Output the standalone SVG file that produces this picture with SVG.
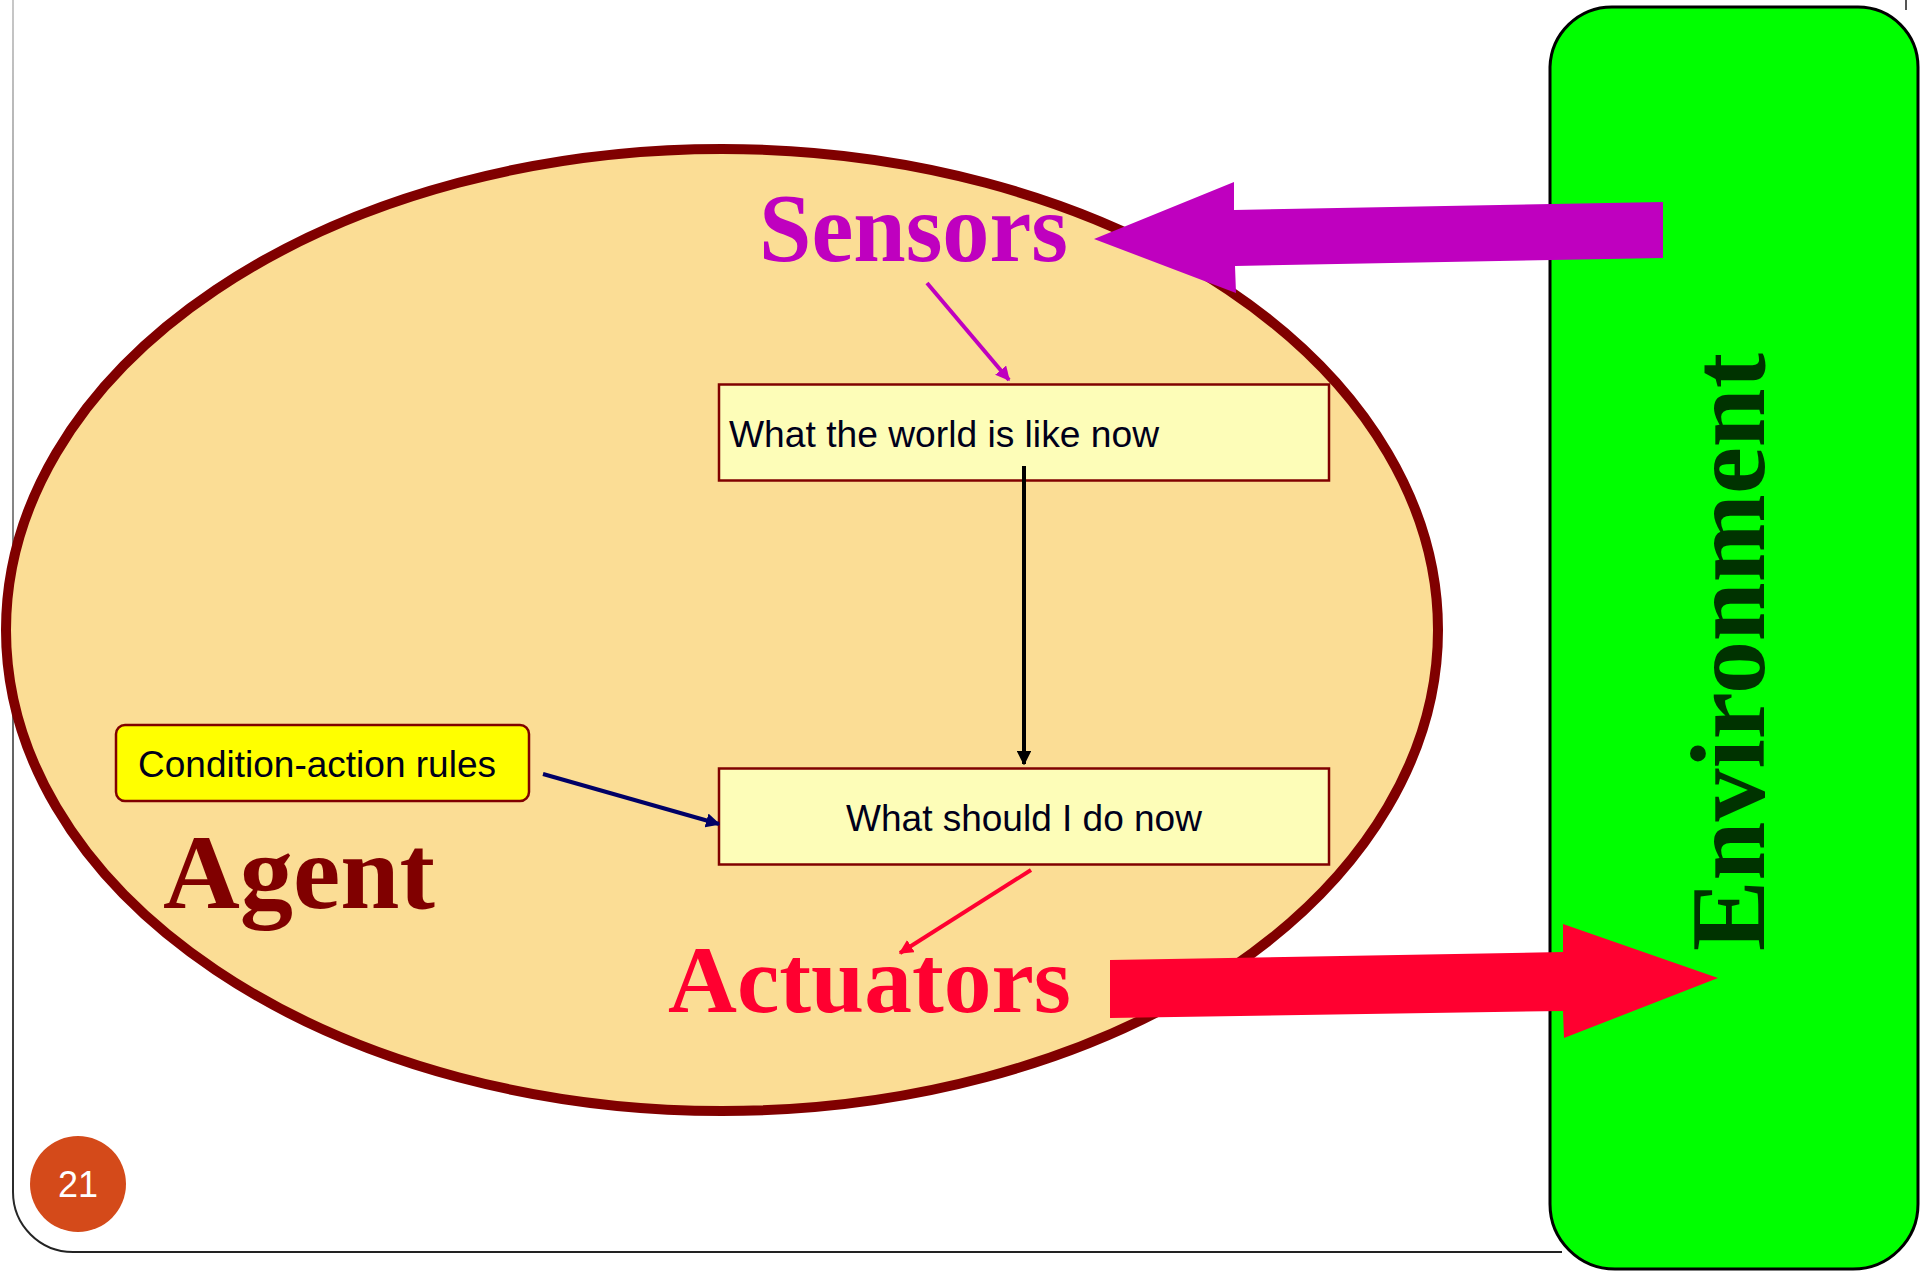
<svg xmlns="http://www.w3.org/2000/svg" width="1920" height="1272" viewBox="0 0 1920 1272">
  <style>
    .box { fill: #FDFDB8; stroke: #800000; stroke-width: 2.5; }
    .boxtext { font-family: "Liberation Sans", Arial, sans-serif; font-size: 37px; fill: #00001A; }
    .big { font-family: "Liberation Serif", "Times New Roman", serif; font-weight: bold; }
    .conn { fill: none; stroke-width: 4; }
  </style>
  <defs>
    <linearGradient id="frameGrad" x1="0" y1="0" x2="0" y2="1">
      <stop offset="0" stop-color="#c8c8c8"/>
      <stop offset="1" stop-color="#222"/>
    </linearGradient>
    <marker id="arrMag" viewBox="0 0 10 10" refX="9" refY="5" markerWidth="3.6" markerHeight="3.6" orient="auto" markerUnits="strokeWidth">
      <path d="M0,0 L10,5 L0,10 z" fill="#BF00BF"/>
    </marker>
    <marker id="arrBlack" viewBox="0 0 10 10" refX="9" refY="5" markerWidth="3.6" markerHeight="3.6" orient="auto" markerUnits="strokeWidth">
      <path d="M0,0 L10,5 L0,10 z" fill="#000"/>
    </marker>
    <marker id="arrNavy" viewBox="0 0 10 10" refX="9" refY="5" markerWidth="3.6" markerHeight="3.6" orient="auto" markerUnits="strokeWidth">
      <path d="M0,0 L10,5 L0,10 z" fill="#000066"/>
    </marker>
    <marker id="arrRed" viewBox="0 0 10 10" refX="9" refY="5" markerWidth="3.6" markerHeight="3.6" orient="auto" markerUnits="strokeWidth">
      <path d="M0,0 L10,5 L0,10 z" fill="#FF0030"/>
    </marker>
  </defs>

  <rect x="0" y="0" width="1920" height="1272" fill="#fff"/>

  <!-- slide frame -->
  <path d="M13,0 L13,1192 A60,60 0 0 0 73,1252 L1562,1252" fill="none" stroke="url(#frameGrad)" stroke-width="2"/>
  <line x1="1906" y1="0" x2="1906" y2="10" stroke="#555" stroke-width="2"/>

  <!-- environment -->
  <g id="environment">
    <path d="M1612,7 L1858,7 A60,60 0 0 1 1918,67 L1918,1204 A65,65 0 0 1 1853,1269 L1615,1269 A65,65 0 0 1 1550,1204 L1550,67 A62,62 0 0 1 1612,7 Z" fill="#00FF00" stroke="#000" stroke-width="3"/>
    <text class="big" transform="translate(1764,951) rotate(-90)" font-size="105" fill="#003300" textLength="598" lengthAdjust="spacingAndGlyphs">Environment</text>
  </g>

  <!-- agent -->
  <g id="agent">
    <ellipse cx="722" cy="630" rx="716" ry="481" fill="#FBDD95" stroke="#800000" stroke-width="10"/>
    <text class="big" x="163" y="908" font-size="106" fill="#800000" textLength="272" lengthAdjust="spacingAndGlyphs">Agent</text>
  </g>

  <g id="sensors">
    <text class="big" x="759" y="261" font-size="97" fill="#BF00BF" textLength="309" lengthAdjust="spacingAndGlyphs">Sensors</text>
  </g>

  <g id="actuators">
    <text class="big" x="668" y="1012" font-size="96" fill="#FF0030" textLength="403" lengthAdjust="spacingAndGlyphs">Actuators</text>
  </g>

  <g id="world-state">
    <rect class="box" x="719" y="384.5" width="610" height="96"/>
    <text class="boxtext" x="729" y="447" textLength="430" lengthAdjust="spacingAndGlyphs">What the world is like now</text>
  </g>

  <g id="action-choice">
    <rect class="box" x="719" y="768.5" width="610" height="96"/>
    <text class="boxtext" x="1024" y="831" text-anchor="middle">What should I do now</text>
  </g>

  <g id="rules">
    <rect x="116" y="725" width="413" height="76" rx="9" fill="#FFFF00" stroke="#800000" stroke-width="2.5"/>
    <text class="boxtext" x="138" y="777" textLength="358" lengthAdjust="spacingAndGlyphs">Condition-action rules</text>
  </g>

  <!-- connectors -->
  <g id="connectors">
    <polygon points="1663,202 1234,210 1234,182 1094,239 1236,293 1235,266 1663,258" fill="#BF00BF"/>
    <polygon points="1110,960 1563,952 1563,924 1718,978 1564,1038 1563,1011 1110,1018" fill="#FF0030"/>
    <line class="conn" x1="927" y1="283" x2="1009" y2="380" stroke="#BF00BF" marker-end="url(#arrMag)"/>
    <line class="conn" x1="1024" y1="466" x2="1024" y2="764" stroke="#000" marker-end="url(#arrBlack)"/>
    <line class="conn" x1="543" y1="774" x2="719" y2="824" stroke="#000066" stroke-width="4.5" marker-end="url(#arrNavy)"/>
    <line class="conn" x1="1031" y1="870" x2="900" y2="953" stroke="#FF0030" marker-end="url(#arrRed)"/>
  </g>

  <!-- slide number -->
  <g id="slide-number">
    <circle cx="78" cy="1184" r="48" fill="#D44A1A"/>
    <text x="78" y="1197" text-anchor="middle" font-family="Liberation Sans, Arial, sans-serif" font-size="36" fill="#fff">21</text>
  </g>
</svg>
